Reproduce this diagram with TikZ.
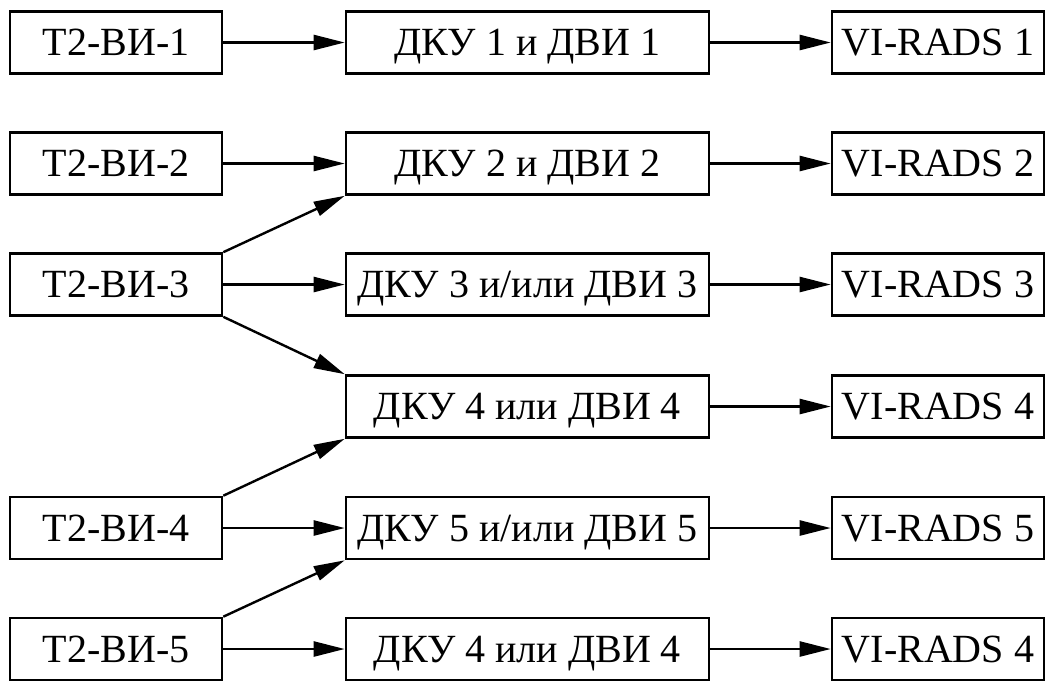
\documentclass[tikz,border=0pt]{standalone}
\usepackage{fontspec}
\setmainfont{Liberation Serif}
\usetikzlibrary{arrows.meta}
\begin{document}
\begin{tikzpicture}[x=1pt,y=-1pt,
  box/.style={draw,line width=2.6pt,inner sep=0pt,minimum height=62pt,
    text height=26.5pt,text depth=0pt,
    font=\fontsize{40}{42}\selectfont},
  lbox/.style={box,minimum width=212pt},
  mbox/.style={box,minimum width=363pt},
  conn/.style={line width=2.4pt,-{Triangle[length=31pt,width=15pt]}}]
\useasboundingbox (0,0) rectangle (1049,681);
% rows
\def\ra{42.5}\def\rb{163.5}\def\rc{284.5}\def\rd{406.5}\def\re{528}\def\rf{649}
% left column
\node[lbox] (t1) at (116,\ra) {T2-ВИ-1};
\node[lbox] (t2) at (116,\rb) {T2-ВИ-2};
\node[lbox] (t3) at (116,\rc) {T2-ВИ-3};
\node[lbox] (t4) at (116,\re) {T2-ВИ-4};
\node[lbox] (t5) at (116,\rf) {T2-ВИ-5};
% middle column
\node[mbox] (d1) at (527.5,\ra) {ДКУ 1 и ДВИ 1};
\node[mbox] (d2) at (527.5,\rb) {ДКУ 2 и ДВИ 2};
\node[mbox] (d3) at (527.5,\rc) {ДКУ 3 и/или ДВИ 3};
\node[mbox] (d4) at (527.5,\rd) {ДКУ 4 или ДВИ 4};
\node[mbox] (d5) at (527.5,\re) {ДКУ 5 и/или ДВИ 5};
\node[mbox] (d6) at (527.5,\rf) {ДКУ 4 или ДВИ 4};
% right column
\node[lbox] (v1) at (938,\ra) {VI-RADS 1};
\node[lbox] (v2) at (938,\rb) {VI-RADS 2};
\node[lbox] (v3) at (938,\rc) {VI-RADS 3};
\node[lbox] (v4) at (938,\rd) {VI-RADS 4};
\node[lbox] (v5) at (938,\re) {VI-RADS 5};
\node[lbox] (v6) at (938,\rf) {VI-RADS 4};
% connectors
\draw[conn] (t1.east) -- (d1.west);
\draw[conn] (t2.east) -- (d2.west);
\draw[conn] (t3.east) -- (d3.west);
\draw[conn] (t4.east) -- (d5.west);
\draw[conn] (t5.east) -- (d6.west);
\draw[conn] (t3.north east) -- (d2.south west);
\draw[conn] (t3.south east) -- (d4.north west);
\draw[conn] (t4.north east) -- (d4.south west);
\draw[conn] (t5.north east) -- (d5.south west);
\foreach \i in {1,...,6} \draw[conn] (d\i.east) -- (v\i.west);
\end{tikzpicture}
\end{document}
